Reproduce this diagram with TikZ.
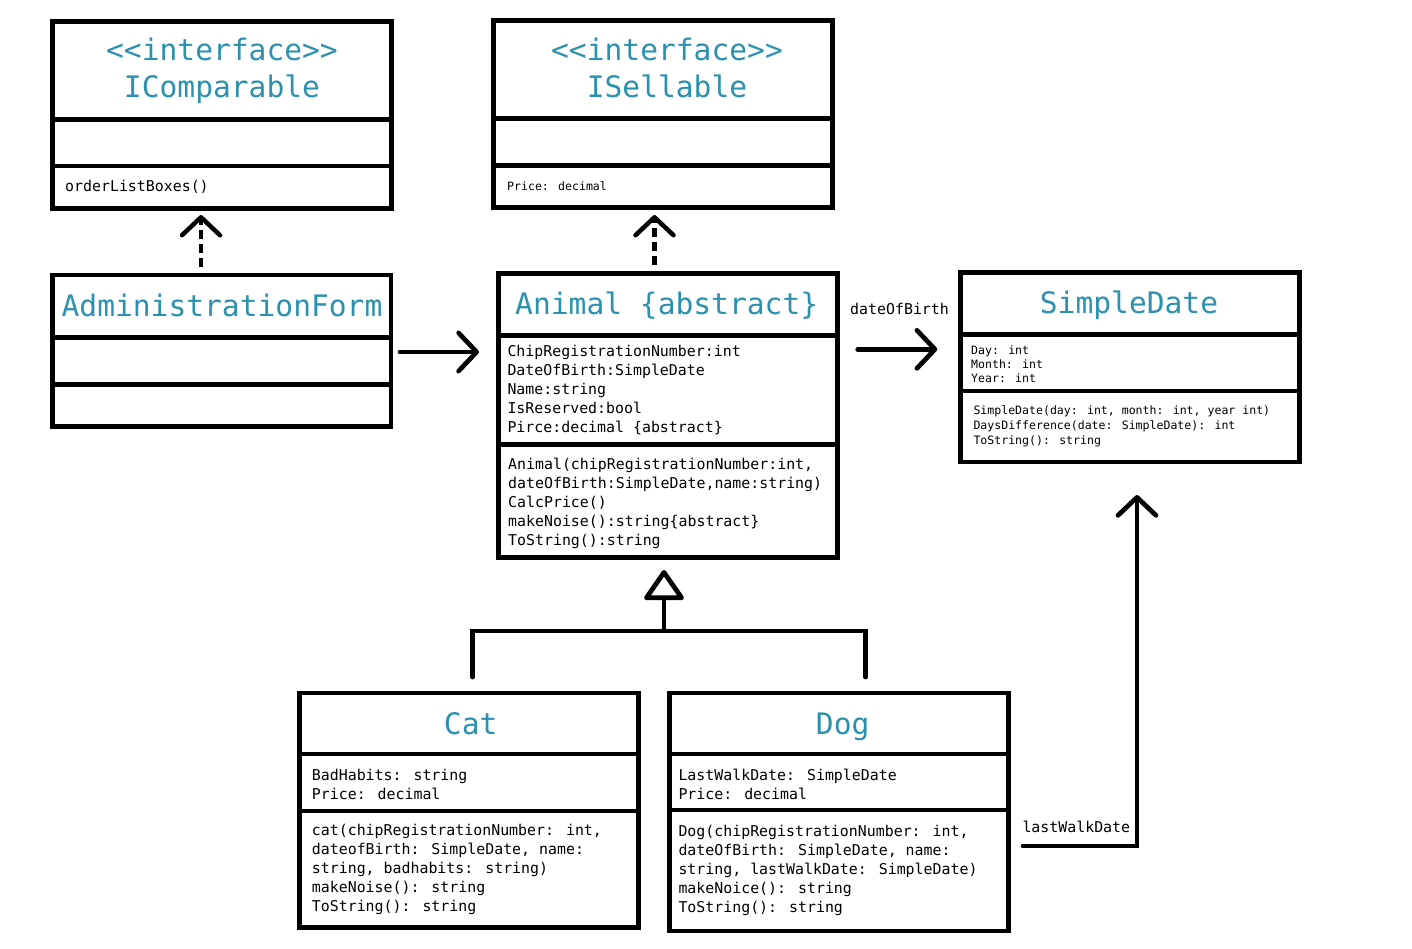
\documentclass[tikz,border=0pt]{standalone}
\usepackage{fontspec}
\newfontfamily\umlmono{DejaVu Sans Mono}
\usetikzlibrary{arrows.meta}
\definecolor{umlteal}{HTML}{2B91AF}
\tikzset{
  umlbox/.style={draw, line width=4.7pt, inner sep=0pt, outer sep=0pt},
  divider/.style={line width=4.7pt},
  titletext/.style={anchor=base, inner sep=0pt, text=umlteal, font=\umlmono\fontsize{29.6}{37}\selectfont},
  bigtext/.style={anchor=base west, inner sep=0pt, font=\umlmono\fontsize{14.9}{19}\selectfont},
  smalltext/.style={anchor=base west, inner sep=0pt, font=\umlmono\fontsize{11.55}{14.2}\selectfont},
  smalltextb/.style={anchor=base west, inner sep=0pt, font=\umlmono\fontsize{11.55}{15}\selectfont},
  barb/.style={-{Straight Barb[length=18pt,width=38pt,line cap=round,line join=round]}},
  assoc/.style={line width=4.7pt, line cap=round, barb},
  realize/.style={line width=4.5pt, dash pattern=on 9pt off 5pt, barb},
  genline/.style={line width=4.7pt, line cap=round},
  general/.style={line width=4.7pt, -{Triangle[open,length=32pt,width=43pt,round]}},
}
\begin{document}
\begin{tikzpicture}[x=1pt,y=-1pt]
\fill[white] (0,0) rectangle (1412,948);
\useasboundingbox (0,0) rectangle (1412,948);

% ---- boxes ----
\node[umlbox, minimum width=339pt, minimum height=186.6pt] (icomp) at (222,115) {};
\node[umlbox, minimum width=339pt, minimum height=187pt] (isell) at (663,114.2) {};
\node[umlbox, minimum width=338.7pt, minimum height=151.3pt] (adm) at (221.7,350.7) {};
\node[umlbox, minimum width=339.4pt, minimum height=284.4pt] (animal) at (668,415.5) {};
\node[umlbox, minimum width=338.6pt, minimum height=189.7pt] (sdate) at (1130,367.2) {};
\node[umlbox, minimum width=338.8pt, minimum height=234.7pt] (cat) at (469,810.4) {};
\node[umlbox, minimum width=338.8pt, minimum height=238pt] (dog) at (839,812) {};

% ---- dividers ----
\draw[divider] (icomp.west |- 0,119.3) -- (icomp.east |- 0,119.3);
\draw[divider] (icomp.west |- 0,166) -- (icomp.east |- 0,166);
\draw[divider] (isell.west |- 0,118.3) -- (isell.east |- 0,118.3);
\draw[divider] (isell.west |- 0,165.3) -- (isell.east |- 0,165.3);
\draw[divider] (adm.west |- 0,337.3) -- (adm.east |- 0,337.3);
\draw[divider] (adm.west |- 0,384.3) -- (adm.east |- 0,384.3);
\draw[divider] (animal.west |- 0,335.7) -- (animal.east |- 0,335.7);
\draw[divider] (animal.west |- 0,444.3) -- (animal.east |- 0,444.3);
\draw[divider] (sdate.west |- 0,334.3) -- (sdate.east |- 0,334.3);
\draw[divider] (sdate.west |- 0,391) -- (sdate.east |- 0,391);
\draw[divider] (cat.west |- 0,754) -- (cat.east |- 0,754);
\draw[divider] (cat.west |- 0,811) -- (cat.east |- 0,811);
\draw[divider] (dog.west |- 0,754) -- (dog.east |- 0,754);
\draw[divider] (dog.west |- 0,810) -- (dog.east |- 0,810);

% ---- titles ----
\node[titletext] (icompT) at (222,60) {\begin{tabular}[t]{@{}c@{}}<<interface>>\\IComparable\end{tabular}};
\node[titletext] (isellT) at (667,60) {\begin{tabular}[t]{@{}c@{}}<<interface>>\\ISellable\end{tabular}};
\node[titletext] (admT) at (222,316.7) {AdministrationForm};
\node[titletext] (animalT) at (666.7,314) {Animal \{abstract\}};
\node[titletext] (sdateT) at (1129,313.3) {SimpleDate};
\node[titletext] (catT) at (470.7,734) {Cat};
\node[titletext] (dogT) at (842.7,734) {Dog};

% ---- members ----
\node[bigtext] (icompM) at (65,191.7) {orderListBoxes()};
\node[smalltext] (isellM) at (507,190) {Price: decimal};
\node[bigtext] (animalA) at (507.3,356.7) {\begin{tabular}[t]{@{}l@{}}ChipRegistrationNumber:int\\DateOfBirth:SimpleDate\\Name:string\\IsReserved:bool\\Pirce:decimal \{abstract\}\end{tabular}};
\node[bigtext] (animalM) at (508,469.3) {\begin{tabular}[t]{@{}l@{}}Animal(chipRegistrationNumber:int,\\dateOfBirth:SimpleDate,name:string)\\CalcPrice()\\makeNoise():string\{abstract\}\\ToString():string\end{tabular}};
\node[smalltext] (sdateA) at (971,354.3) {\begin{tabular}[t]{@{}l@{}}Day: int\\Month: int\\Year: int\end{tabular}};
\node[smalltextb] (sdateM) at (973.3,414) {\begin{tabular}[t]{@{}l@{}}SimpleDate(day: int, month: int, year int)\\DaysDifference(date: SimpleDate): int\\ToString(): string\end{tabular}};
\node[bigtext] (catA) at (311.7,780.7) {\begin{tabular}[t]{@{}l@{}}BadHabits: string\\Price: decimal\end{tabular}};
\node[bigtext] (catM) at (311.7,835.7) {\begin{tabular}[t]{@{}l@{}}cat(chipRegistrationNumber: int,\\dateofBirth: SimpleDate, name:\\string, badhabits: string)\\makeNoise(): string\\ToString(): string\end{tabular}};
\node[bigtext] (dogA) at (678.3,780) {\begin{tabular}[t]{@{}l@{}}LastWalkDate: SimpleDate\\Price: decimal\end{tabular}};
\node[bigtext] (dogM) at (678.3,836.7) {\begin{tabular}[t]{@{}l@{}}Dog(chipRegistrationNumber: int,\\dateOfBirth: SimpleDate, name:\\string, lastWalkDate: SimpleDate)\\makeNoice(): string\\ToString(): string\end{tabular}};

% ---- connector labels ----
\node[bigtext] (dobL) at (850,314.3) {dateOfBirth};
\node[bigtext] (lwdL) at (1022.3,832.3) {lastWalkDate};

% ---- connector ends ----
\coordinate (r1s) at (201,267);
\coordinate (r1e) at (201,215);
\coordinate (r2s) at (654.5,265);
\coordinate (r2e) at (654.5,215);
\coordinate (a1s) at (400,352);
\coordinate (a1e) at (479,352);
\coordinate (a2s) at (857.7,349.3);
\coordinate (a2e) at (937.3,349.3);
\coordinate (a3s) at (1023,846);
\coordinate (a3k) at (1137,846);
\coordinate (a3e) at (1137,495);
\coordinate (gcat) at (472.5,677);
\coordinate (gdog) at (865.5,677);
\coordinate (gjn) at (664,631);
\coordinate (gtip) at (664,570);

% ---- connectors ----
\draw[realize] (r1s) -- (r1e);
\draw[realize] (r2s) -- (r2e);
\draw[assoc] (a1s) -- (a1e);
\draw[assoc] (a2s) -- (a2e);
\draw[assoc, line join=miter] (a3s) -- (a3k) -- (a3e);
\draw[genline] (gcat) -- (gcat |- gjn) -- (gdog |- gjn) -- (gdog);
\draw[general] (gjn) -- (gtip);
\end{tikzpicture}
\end{document}
